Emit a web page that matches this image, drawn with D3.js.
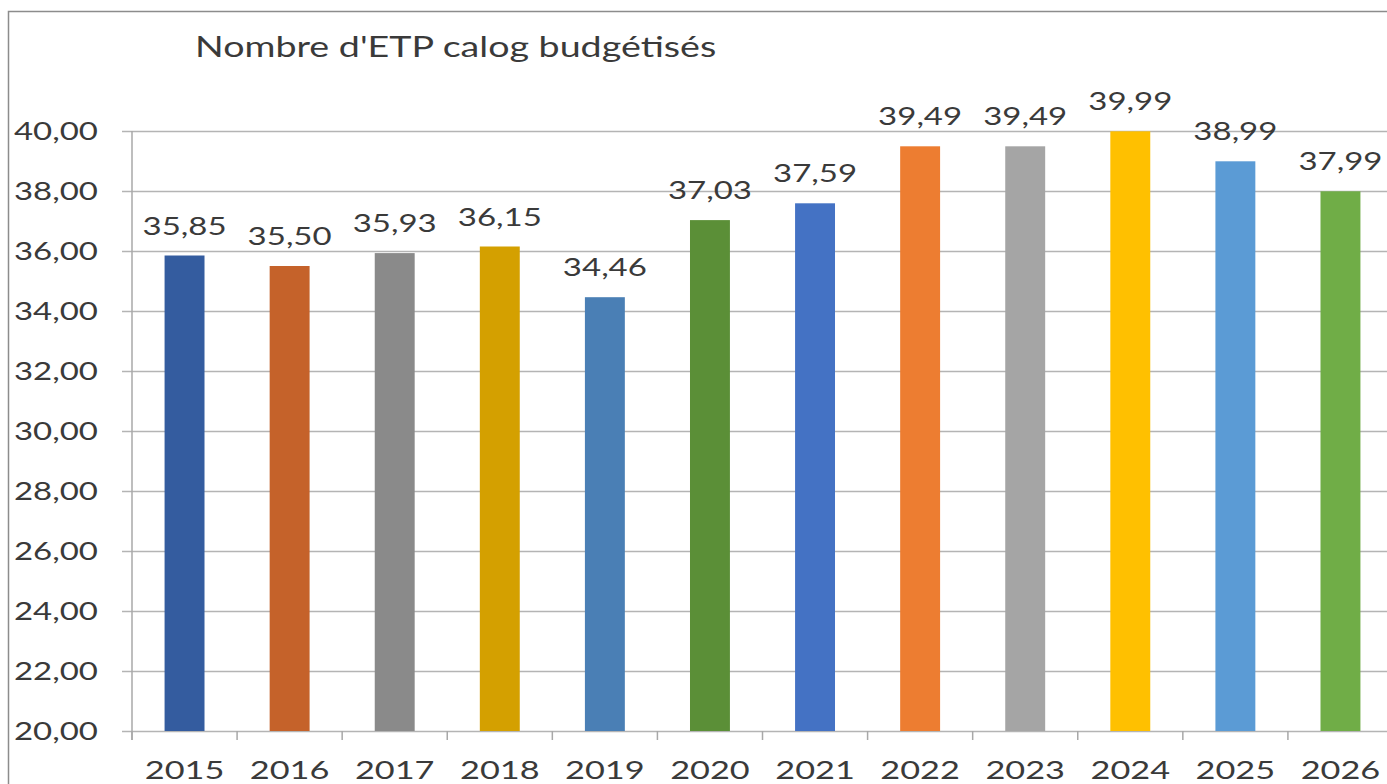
<!DOCTYPE html>
<html>
<head>
<meta charset="utf-8">
<script src="https://cdn.jsdelivr.net/npm/d3@7"></script>
<style>
  body { margin: 0; background: #fff; }
  svg text { font-family: Lato, "Open Sans", sans-serif; fill: #3a3a3a; }
</style>
</head>
<body>
<script>
// chart data
var years = ["2015", "2016", "2017", "2018", "2019", "2020", "2021", "2022", "2023", "2024", "2025", "2026"];
var values = [35.85, 35.50, 35.93, 36.15, 34.46, 37.03, 37.59, 39.49, 39.49, 39.99, 38.99, 37.99];
var barColors = ["#345c9f", "#c5622a", "#8a8a8a", "#d4a000", "#4a7fb5", "#5b8f37",
                 "#4472c4", "#ed7d31", "#a5a5a5", "#ffc000", "#5b9bd5", "#70ad47"];
var yTicks = [20, 22, 24, 26, 28, 30, 32, 34, 36, 38, 40];
var title = "Nombre d'ETP calog budgétisés";

var width = 1387, height = 784;
var plotLeft = 132, plotRight = 1393, plotTop = 131, plotBottom = 731;
var stretch = 1.32; // text in the picture is drawn wide

var fmt = function(v) { return v.toFixed(2).replace(".", ","); };

var svg = d3.select("body").append("svg")
    .attr("width", width)
    .attr("height", height);

// outer frame, runs off the right and bottom edges
svg.append("rect")
    .attr("x", 8.5).attr("y", 11.5)
    .attr("width", 1500).attr("height", 900)
    .attr("fill", "#fff")
    .attr("stroke", "#8c8c8c")
    .attr("stroke-width", 1.5);

var x = d3.scaleBand().domain(years).range([plotLeft, plotRight]).paddingInner(0.62).paddingOuter(0.31);
var y = d3.scaleLinear().domain([20, 40]).range([plotBottom, plotTop]);

// gridlines
var yAxis = d3.axisLeft(y).tickValues(yTicks).tickSize(0).tickFormat("");
var gy = svg.append("g").attr("transform", "translate(" + plotLeft + ",0)").call(yAxis);
gy.select(".domain").remove();
gy.selectAll(".tick line")
    .attr("x1", -10).attr("x2", width)
    .attr("stroke", "#b4b4b4").attr("stroke-width", 1.5);

// y axis line
svg.append("line")
    .attr("x1", plotLeft).attr("x2", plotLeft)
    .attr("y1", plotTop).attr("y2", plotBottom + 9)
    .attr("stroke", "#a8a8a8").attr("stroke-width", 1.5);

// y tick labels
svg.selectAll("text.ylab").data(yTicks).enter().append("text")
    .attr("class", "ylab")
    .attr("transform", function(d) { return "translate(98," + (y(d) + 9) + ") scale(" + stretch + ",1)"; })
    .attr("text-anchor", "end")
    .style("font-size", "25px")
    .text(fmt);

// x axis ticks at category boundaries
var step = x.step();
var bounds = d3.range(years.length + 1).map(function(i) { return plotLeft + i * step; });
svg.selectAll("line.xtick").data(bounds).enter().append("line")
    .attr("class", "xtick")
    .attr("x1", function(d) { return d; }).attr("x2", function(d) { return d; })
    .attr("y1", plotBottom).attr("y2", plotBottom + 9)
    .attr("stroke", "#a8a8a8").attr("stroke-width", 1.5);

// bars
svg.selectAll("rect.bar").data(values).enter().append("rect")
    .attr("class", "bar")
    .attr("x", function(d, i) { return x(years[i]); })
    .attr("width", x.bandwidth())
    .attr("y", function(d) { return y(d); })
    .attr("height", function(d) { return plotBottom - y(d); })
    .attr("fill", function(d, i) { return barColors[i]; });

// value labels
svg.selectAll("text.val").data(values).enter().append("text")
    .attr("class", "val")
    .attr("transform", function(d, i) {
        return "translate(" + (x(years[i]) + x.bandwidth() / 2) + "," + (y(d) - 21) + ") scale(" + stretch + ",1)";
    })
    .attr("text-anchor", "middle")
    .style("font-size", "25px")
    .text(fmt);

// year labels
svg.selectAll("text.xlab").data(years).enter().append("text")
    .attr("class", "xlab")
    .attr("transform", function(d) {
        return "translate(" + (x(d) + x.bandwidth() / 2) + ",779) scale(" + stretch + ",1)";
    })
    .attr("text-anchor", "middle")
    .style("font-size", "26px")
    .text(function(d) { return d; });

// title
svg.append("text")
    .attr("transform", "translate(195,57) scale(" + stretch + ",1)")
    .style("font-size", "28.5px")
    .text(title);
</script>
</body>
</html>
